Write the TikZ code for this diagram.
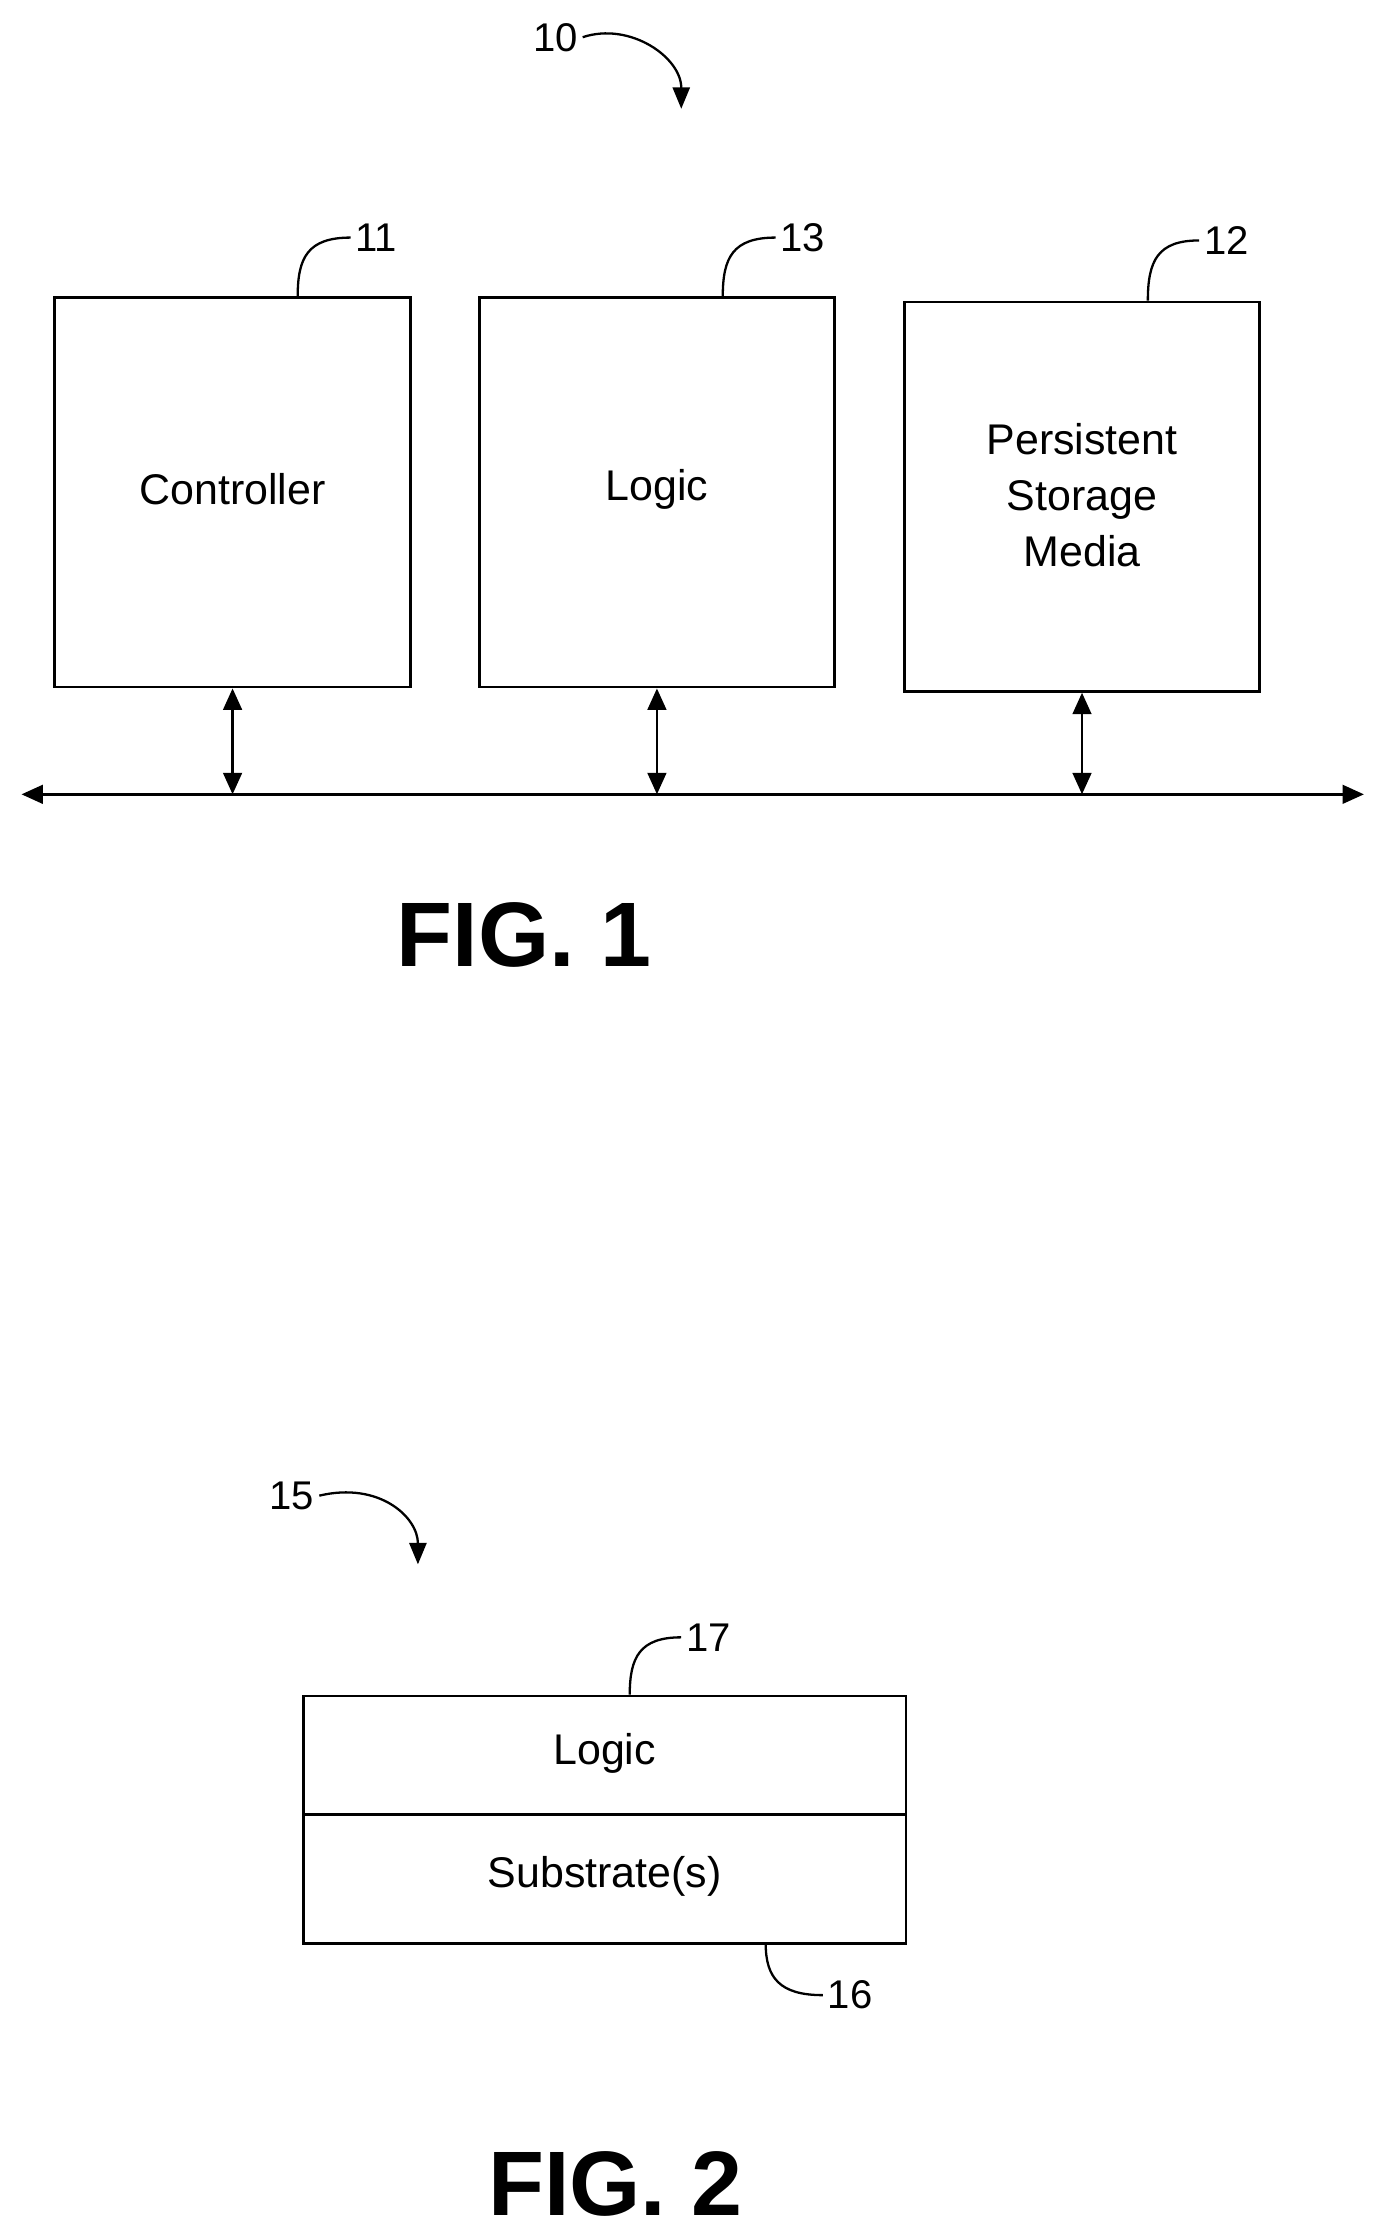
\documentclass[tikz,border=0pt]{standalone}
\usepackage{fontspec}
\setmainfont{Liberation Sans}
\usetikzlibrary{arrows.meta}
\begin{document}
\begin{tikzpicture}[x=1pt,y=-1pt,
  box/.style={draw,line width=2pt,inner sep=0pt},
  txt/.style={font=\fontsize{30}{39}\selectfont,align=center},
  num/.style={font=\fontsize{28}{33}\selectfont},
  fig/.style={font=\bfseries\fontsize{64}{68}\selectfont},
  lead/.style={line width=1.6pt},
  arr/.style={line width=2pt,{Triangle[length=15pt,width=13pt]}-{Triangle[length=15pt,width=13pt]}},
  carr/.style={line width=1.6pt,-{Triangle[length=15pt,width=12pt]}}]
\useasboundingbox (0,0) rectangle (966,1563);
% FIG 1
\node[box,minimum width=249pt,minimum height=272pt] (ctl) at (162.5,344) {};
\node[txt] at (162.5,342) {Controller};
\node[box,minimum width=248pt,minimum height=272pt] (lg) at (459,344) {};
\node[txt] at (459,342) {Logic};
\node[box,minimum width=248pt,minimum height=272pt] (ps) at (756,347) {};
\node[txt] at (756,346) {Persistent\\Storage\\Media};
\coordinate (bl) at (15,555); \coordinate (br) at (953,555);
\draw[arr] (bl) -- (br);
\draw[arr] (ctl.south) -- (ctl.south |- bl);
\draw[arr] (lg.south) -- (lg.south |- bl);
\draw[arr] (ps.south) -- (ps.south |- bl);
\node[num] (n11) at (263,166) {11};
\draw[lead] (208,207) .. controls (208,180) and (215,166) .. (n11.west);
\node[num] (n13) at (561,166) {13};
\draw[lead] (505,207) .. controls (505,180) and (512,166) .. (n13.west);
\node[num] (n12) at (857,168) {12};
\draw[lead] (802,210) .. controls (802,182) and (809,168) .. (n12.west);
\node[num] (n10) at (388,26) {10};
\draw[carr] (n10.east) .. controls (440,15) and (476,40) .. (476,76);
\node[fig] at (366,653) {FIG. 1};
% FIG 2
\node[box,minimum width=421pt,minimum height=83pt] (lg2) at (422.5,1226.5) {};
\node[txt] at (422.5,1225) {Logic};
\node[box,minimum width=421pt,minimum height=90pt] (sub) at (422.5,1313) {};
\node[txt] at (422.5,1311) {Substrate(s)};
\node[num] (n15) at (204,1045) {15};
\draw[carr] (n15.east) .. controls (265,1035) and (292,1060) .. (292,1093);
\node[num] (n17) at (495,1144) {17};
\draw[lead] (440,1184) .. controls (440,1158) and (447,1144) .. (n17.west);
\node[num] (n16) at (594,1394) {16};
\draw[lead] (535,1358) .. controls (535,1382) and (545,1394) .. (n16.west);
\node[fig] at (430,1526) {FIG. 2};
\end{tikzpicture}
\end{document}
